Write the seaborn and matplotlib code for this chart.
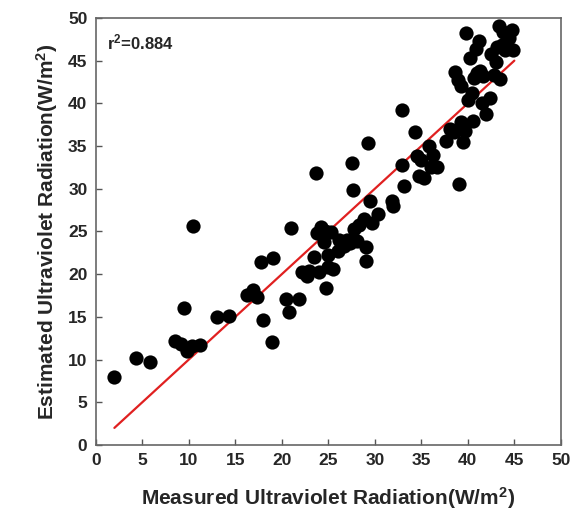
import matplotlib
matplotlib.use("Agg")
import matplotlib.pyplot as plt
import seaborn as sns
import pandas as pd

measured = [2.0, 4.3, 5.8, 8.5, 9.2, 9.5, 9.8, 10.3, 10.5, 11.2, 13.0, 14.3, 16.3, 16.9, 17.3,
            17.8, 18.0, 18.9, 19.1, 20.4, 20.8, 21.0, 21.8, 22.2, 22.7, 22.9, 23.5, 23.8, 23.7,
            24.0, 24.2, 24.5, 24.6, 24.7, 25.0, 25.0, 25.3, 25.5, 26.0, 26.2, 26.7, 27.0, 27.3,
            27.6, 27.7, 27.8, 28.1, 28.3, 28.8, 29.0, 29.1, 29.3, 29.5, 29.7, 30.3, 31.8, 32.0,
            32.9, 32.9, 33.1, 34.3, 34.5, 34.8, 35.0, 35.3, 35.8, 36.0, 36.3, 36.7, 37.6, 38.1,
            38.5, 38.6, 38.9, 39.0, 39.3, 39.3, 39.5, 39.7, 39.8, 40.0, 40.2, 40.5, 40.6, 40.7,
            40.9, 41.0, 41.2, 41.3, 41.5, 41.6, 42.0, 42.4, 42.5, 42.8, 43.0, 43.1, 43.3, 43.5,
            43.7, 43.8, 44.0, 44.4, 44.7, 44.9]
estimated = [8.0, 10.2, 9.7, 12.2, 11.8, 16.0, 11.0, 11.6, 25.6, 11.7, 15.0, 15.1, 17.6, 18.1, 17.3,
             21.4, 14.6, 12.0, 21.9, 17.1, 15.6, 25.4, 17.1, 20.3, 19.8, 20.4, 22.0, 24.8, 31.8,
             20.2, 25.5, 23.8, 25.0, 18.4, 22.3, 20.8, 24.9, 20.6, 22.7, 24.0, 23.3, 24.0, 23.7,
             33.0, 29.8, 25.3, 23.9, 25.8, 26.5, 23.2, 21.5, 35.3, 28.6, 26.0, 27.0, 28.6, 28.0,
             39.2, 32.8, 30.3, 36.6, 33.8, 31.5, 33.4, 31.3, 35.0, 32.5, 34.0, 32.5, 35.6, 37.0,
             36.6, 43.7, 42.7, 30.5, 37.8, 42.0, 35.5, 36.8, 48.2, 40.4, 45.3, 41.2, 37.9, 43.0,
             46.4, 43.5, 47.3, 43.8, 40.1, 43.2, 38.7, 40.6, 45.8, 43.3, 44.8, 46.6, 49.0, 42.9,
             46.8, 48.3, 46.3, 47.7, 48.6, 46.2]
fit_x = [2.0, 45.0]
fit_y = [2.0, 45.0]
ticks = [0, 5, 10, 15, 20, 25, 30, 35, 40, 45, 50]
r2_text = "r$^2$=0.884"

sns.set_theme(style="white")
plt.rcParams['font.family'] = ['Liberation Sans', 'DejaVu Sans']
plt.rcParams['mathtext.fontset'] = 'custom'
plt.rcParams['mathtext.rm'] = 'Liberation Sans:bold'
plt.rcParams['mathtext.it'] = 'Liberation Sans:bold'
plt.rcParams['mathtext.bf'] = 'Liberation Sans:bold'

df = pd.DataFrame({"m": measured, "e": estimated})
fit = pd.DataFrame({"x": fit_x, "y": fit_y})

fig = plt.figure(figsize=(5.77, 5.13), dpi=100)
ax = fig.add_axes([0.166, 0.1326, 0.806, 0.8324])

sns.lineplot(data=fit, x="x", y="y", color="#e02020", linewidth=1.6, ax=ax, zorder=2)
sns.scatterplot(data=df, x="m", y="e", color="black", s=105, edgecolor="black", linewidth=0,
                ax=ax, zorder=3)

ax.set_xlim(0, 50)
ax.set_ylim(0, 50)
ax.set_xticks(ticks)
ax.set_yticks(ticks)
ax.set_xticklabels([str(t) for t in ticks], fontweight="bold", fontsize=12.5)
ax.set_yticklabels([str(t) for t in ticks], fontweight="bold", fontsize=12.5)
ax.tick_params(direction="in", length=4, width=1, color="#555555", pad=6,
               bottom=True, left=True, top=False, right=False)
for sp in ax.spines.values():
    sp.set_color("#666666")
    sp.set_linewidth(1.2)

ax.set_xlabel("Measured Ultraviolet Radiation(W/m$^2$)", fontweight="bold", fontsize=15, labelpad=12)
ax.set_ylabel("Estimated Ultraviolet Radiation(W/m$^2$)", fontweight="bold", fontsize=15, labelpad=6)
ax.text(0.025, 0.965, r2_text, transform=ax.transAxes, fontsize=12, fontweight="bold",
        va="top", ha="left")

fig.savefig("out.png", dpi=100)
